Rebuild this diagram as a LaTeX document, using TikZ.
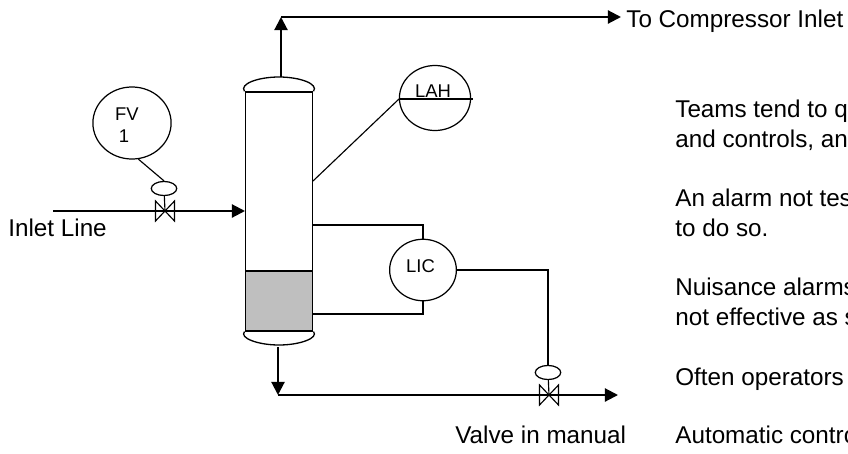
\documentclass[tikz,border=0pt]{standalone}
\usepackage{fontspec}
\usepackage{xcolor}
\setmainfont{Liberation Sans}
\usetikzlibrary{arrows.meta, shapes.geometric}
\tikzset{
  pipe/.style={line width=1.2pt, -{Triangle[length=7.5pt,width=7.5pt]}},
  signal/.style={line width=0.65pt},
  instrument/.style={ellipse, draw, line width=0.7pt, inner sep=0pt},
  actuator/.style={ellipse, draw, line width=0.7pt, inner sep=0pt, minimum width=14.5pt, minimum height=8pt},
  vesselwall/.style={rectangle, draw, line width=0.75pt, inner sep=0pt},
  txt/.style={inner sep=0pt, anchor=base west, font=\fontsize{13.8pt}{16pt}\selectfont},
  tag/.style={inner sep=0pt, anchor=base, font=\fontsize{10.5pt}{12pt}\selectfont}
}
\begin{document}
\begin{tikzpicture}[x=0.02cm, y=-0.02cm]
  \clip (0,0) rectangle (848,453);
  % Column and its heads
  \node[vesselwall, minimum width=38.5pt, minimum height=135.5pt] (vessel) at (279,211) {};
  \node[vesselwall, fill=gray!50, minimum width=38.5pt, minimum height=34pt] (liquid) at (279,301) {};
  \draw[line width=0.75pt] (liquid.south west) .. controls (239,338) and (258,345) .. (279,345) .. controls (300,345) and (319,338) .. (liquid.south east);
  \draw[line width=0.75pt] (vessel.north west) .. controls (239,84) and (258,77) .. (279,77) .. controls (300,77) and (319,84) .. (vessel.north east);
  \coordinate (tophead) at (281,77);
  \coordinate (bottomhead) at (278,347);
  \coordinate (alarmtap) at (313,181);
  \coordinate (upperleg) at (313,225);
  \coordinate (lowerleg) at (313,314);

  % Instruments
  \node[instrument, minimum width=44.5pt, minimum height=41pt] (fv) at (132,123) {};
  \node[instrument, minimum width=40.5pt, minimum height=37pt] (lah) at (435,98) {};
  \node[instrument, minimum width=38pt, minimum height=35pt] (lic) at (423,270) {};
  \node[tag] (fvtag) at (127,120) {FV};
  \node[tag] (fvnum) at (124,142) {1};
  \node[tag] (lahtag) at (433,97) {LAH};
  \node[tag] (lictag) at (420.5,272) {LIC};
  \coordinate (lahleft) at (399,99);
  \coordinate (lahright) at (473,99);
  \draw[signal] (lahleft) -- (lahright);

  % Lines
  \coordinate (inletstart) at (53,211);
  \coordinate (inletend) at (245,211);
  \coordinate (topcorner) at (281,17);
  \coordinate (compressor) at (621,17);
  \coordinate (bottomcorner) at (278,395);
  \coordinate (outlet) at (618,395);
  \draw[pipe] (inletstart) -- (inletend);
  \draw[pipe] (tophead) -- (topcorner);
  \draw[pipe] (topcorner) -- (compressor);
  \draw[pipe] (bottomhead) -- (bottomcorner);
  \draw[pipe] (bottomcorner) -- (outlet);

  % Valves
  \foreach \name/\vx/\vy/\ax in {inletvalve/165/211/164, outletvalve/549/395/548}{
    \coordinate (\name) at (\vx,\vy);
    \node[actuator] (\name act) at (\ax,{\vy-22.5}) {};
    \draw[signal] (\name act) -- (\name);
    \draw[signal] ({\vx-9.5},{\vy-10}) -- ({\vx+9.5},{\vy+10}) -- ({\vx+9.5},{\vy-10}) -- ({\vx-9.5},{\vy+10}) -- cycle;
  }

  % Signal lines
  \draw[signal] (fv.-80) -- (inletvalveact.north);
  \draw[signal] (alarmtap) -- (lahleft);
  \draw[signal] (upperleg) -| (lic.north);
  \draw[signal] (lowerleg) -| (lic.south);
  \draw[signal] (lic.east) -| (outletvalveact.north);

  % Labels
  \node[txt] (compressorlabel) at (626,28) {To Compressor Inlet};
  \node[txt] (inletlabel) at (8,236) {Inlet Line};
  \node[txt] (manuallabel) at (455,443) {Valve in manual};
  \node[txt] (noteone) at (675,117) {Teams tend to q};
  \node[txt] (notetwo) at (675,147) {and controls, and};
  \node[txt] (notethree) at (675,206) {An alarm not tes};
  \node[txt] (notefour) at (675,236) {to do so.};
  \node[txt] (notefive) at (675,295) {Nuisance alarms};
  \node[txt] (notesix) at (675,325) {not effective as s};
  \node[txt] (noteseven) at (675,385) {Often operators};
  \node[txt] (noteeight) at (675,443) {Automatic control};
\end{tikzpicture}
\end{document}
